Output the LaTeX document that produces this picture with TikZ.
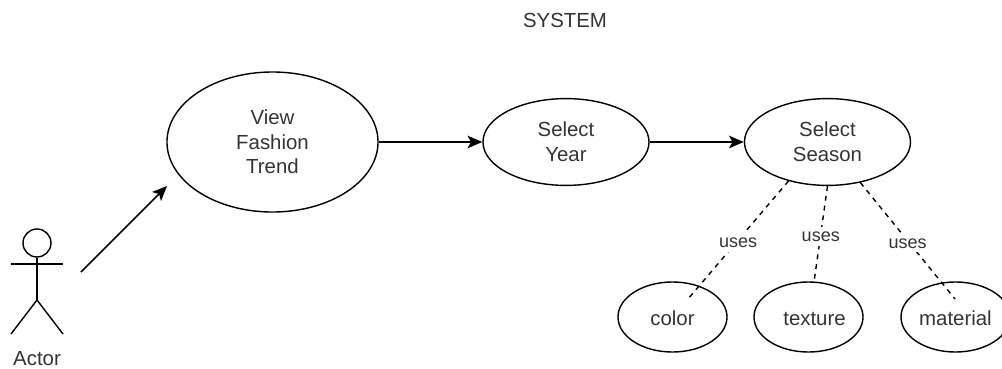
\documentclass[tikz,border=0pt]{standalone}
\usepackage{fontspec}
\setmainfont{Liberation Sans}
\usetikzlibrary{shapes.geometric,arrows.meta}

\begin{document}
\begin{tikzpicture}[x=0.025cm,y=-0.025cm,line width=1pt,
      every node/.style={font=\fontsize{14.5}{17.5}\selectfont,text=black!80},
      usecase/.style={draw=black,ellipse,inner sep=0pt,align=center},
      bigcase/.style={usecase,minimum width=5.275cm,minimum height=3.5cm},
      midcase/.style={usecase,minimum width=4.15cm,minimum height=2.17cm},
      smallcase/.style={usecase,minimum width=2.725cm,minimum height=1.75cm,text height=14pt,text depth=2.6pt},
      flow/.style={-{Stealth[length=10.5pt,width=9pt,inset=2.5pt]},line width=1.1pt},
      uses/.style={dash pattern=on 3.5pt off 3.5pt},
      useslabel/.style={midway,yshift=-1.8pt,fill=white,inner xsep=1.5pt,inner ysep=3pt,font=\fontsize{12.8}{15}\selectfont}
    ]
    \useasboundingbox (0,0) rectangle (1002,369);
    \node (system) at (565,20) {SYSTEM};
    \node [bigcase] (view) at (272.5,142) {View\\Fashion\\Trend};
    \node [midcase] (year) at (566,142) {Select\\Year};
    \node [midcase] (season) at (827.5,142) {Select\\Season};
    \node [smallcase] (color) at (672.5,317) {color};
    \node [smallcase] (texture) at (808.5,317) {\hspace*{0.3cm}texture};
    \node [smallcase] (material) at (955.5,317) {material};
    % stick figure
    \node [draw=black,circle,inner sep=0pt,minimum size=0.7cm] (head) at (37,243) {};
    \coordinate (hip) at (37,300);
    \coordinate (handl) at (11,264);
    \coordinate (handr) at (63,264);
    \coordinate (footl) at (11,334);
    \coordinate (footr) at (63,334);
    \draw (head) -- (hip);
    \draw (handl) -- (handr);
    \draw (footl) -- (hip) -- (footr);
    \node [inner sep=1pt] (actor) at (37,359) {Actor};
    \coordinate (actorout) at (81,272);
    \coordinate (viewin) at (167,186);
    \draw [flow] (actorout) -- (viewin);
    \draw [flow] (view) -- (year);
    \draw [flow] (year) -- (season);
    \coordinate (colorend) at (688,299);
    \coordinate (textureend) at (814,282);
    \coordinate (materialend) at (955,299);
    \draw [uses] (season.225) -- (colorend) node [useslabel] (usesa) {uses};
    \draw [uses] (season.south) -- (textureend) node [useslabel] (usesb) {uses};
    \draw [uses] (season.309) -- (materialend) node [useslabel] (usesc) {uses};
  \end{tikzpicture}
\end{document}
